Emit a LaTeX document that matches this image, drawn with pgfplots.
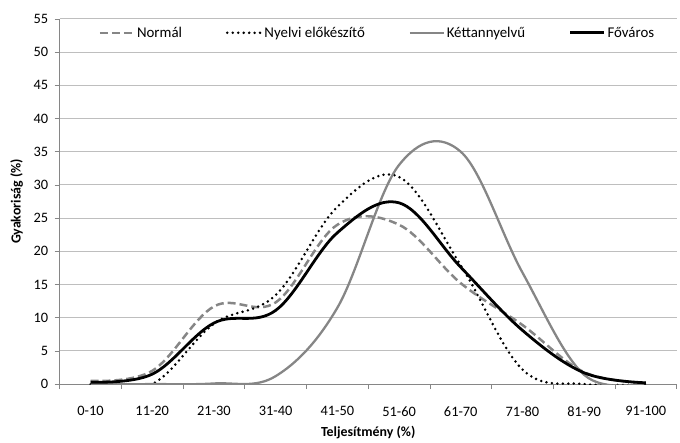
\documentclass[border=0pt]{standalone}
\usepackage{pgfplots}
\pgfplotsset{compat=1.18}
\usepackage{fontspec}
\setmainfont{Carlito}
\definecolor{lg}{RGB}{134,134,134}
\definecolor{gridc}{RGB}{190,190,190}
\begin{document}
\begin{tikzpicture}
\begin{axis}[name=ax, scale only axis, width=620bp, height=367bp,
 xmin=-0.5, xmax=9.5, ymin=0, ymax=55,
 axis x line*=bottom, axis y line*=left,
 axis line style={draw=lg, line width=0.8pt},
 xtick={-0.5,0.5,...,9.5}, xticklabels={,,,,,,,,,,,},
 extra x ticks={0,...,9},
 extra x tick labels={0-10,11-20,21-30,31-40,41-50,51-60,61-70,71-80,81-90,91-100},
 extra x tick style={major tick length=0pt, xticklabel style={yshift=-19bp}},
 ytick={0,5,...,55},
 tick align=outside, tick style={draw=lg, line width=0.8pt}, major tick length=5bp,
 ymajorgrids, grid style={draw=gridc, line width=1pt},
 ticklabel style={font=\fontsize{14.5}{16}\selectfont},
 yticklabel style={xshift=-3bp},
 /pgf/number format/assume math mode=true,
 xlabel={Teljesítmény (\%)}, ylabel={Gyakoriság (\%)},
 label style={font=\fontsize{14}{16}\selectfont\bfseries},
 xlabel style={yshift=2bp},
 ylabel style={yshift=4bp},
 legend columns=4,
 legend style={at={(0.515,0.962)}, anchor=center, draw=none, fill=none,
   font=\fontsize{15}{17}\selectfont,
   /tikz/every even column/.append style={column sep=42bp}},
 legend image code/.code={\draw[#1] (0bp,0bp) -- (34bp,0bp);},
 every axis plot/.append style={smooth, tension=0.6, mark=none},
]
\addplot[color=lg, line width=2.5bp, dash pattern=on 8bp off 4bp] coordinates {
 (0,0.5) (1,2.0) (2,11.7) (3,12.3) (4,24) (5,24) (6,15.2) (7,8.9) (8,1.8) (9,0.2)};
\addlegendentry{Normál}
\addplot[color=black, line width=2.8bp, line cap=round, dash pattern=on 0bp off 5.5bp] coordinates {
 (0,0) (1,0) (2,9.1) (3,13.4) (4,26.7) (5,31.2) (6,17.9) (7,2.2) (8,0) (9,0)};
\addlegendentry{Nyelvi előkészítő}
\addplot[color=lg, line width=2.3bp] coordinates {
 (0,0) (1,0) (2,0.1) (3,1.2) (4,11.5) (5,33) (6,35) (7,16.8) (8,1.4) (9,0.2)};
\addlegendentry{Kéttannyelvű}
\addplot[color=black, line width=2.8bp] coordinates {
 (0,0.3) (1,1.5) (2,9.2) (3,11.1) (4,22.8) (5,27.3) (6,17.6) (7,8.1) (8,1.7) (9,0.2)};
\addlegendentry{Főváros}
\end{axis}
\path ([shift={(-60bp,-52bp)}]ax.south west) rectangle ([shift={(0bp,19bp)}]ax.north east);
\end{tikzpicture}
\end{document}
